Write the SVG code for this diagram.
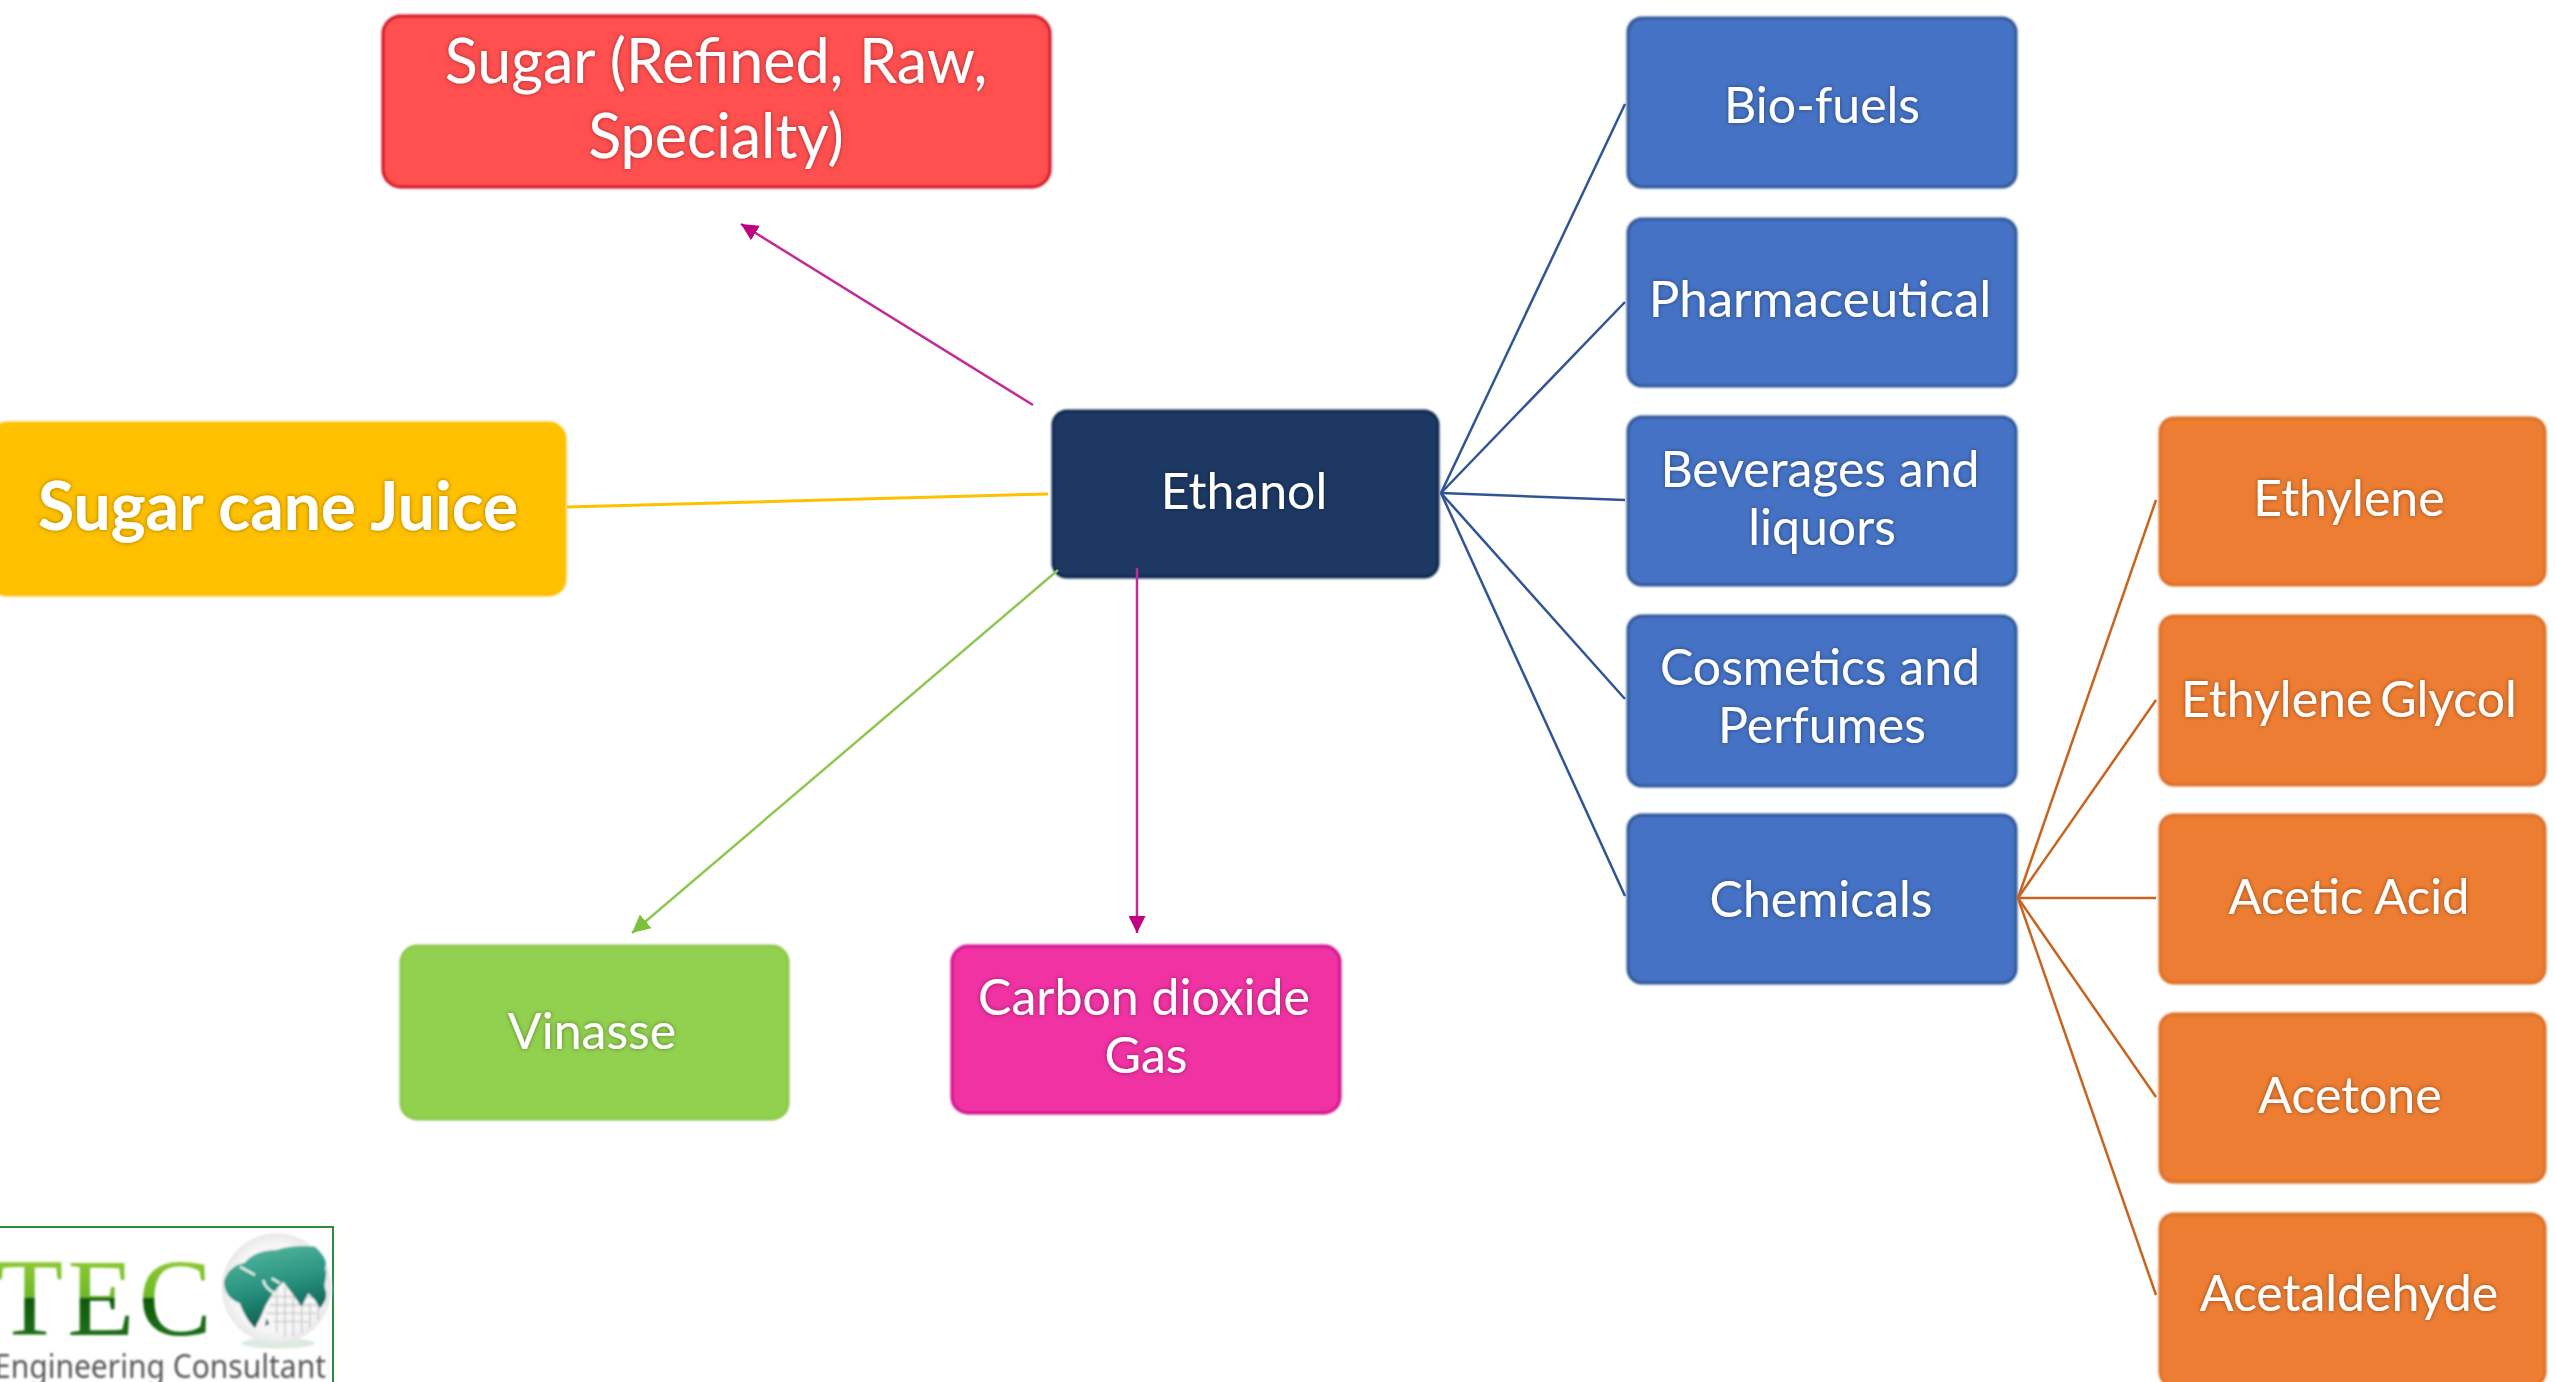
<svg xmlns="http://www.w3.org/2000/svg" width="2555" height="1382" viewBox="0 0 2555 1382">
<style>
.n{stroke-width:3;filter:url(#r)}
.t{font-family:Lato,"Open Sans",sans-serif;font-size:50px;fill:#fff;text-anchor:middle;filter:url(#s)}
.l{fill:none}
.blue{stroke:#2F5597;stroke-width:2.5}
.or{stroke:#C8641E;stroke-width:2.5}
.mag{stroke:#C42A98;stroke-width:2.5}
.gr{stroke:#8CC850;stroke-width:2.5}
.bl{fill:#4472C4;stroke:#2F5597}
.og{fill:#ED7D31;stroke:#DC6E26}
</style>
<defs>
<filter id="s" x="-10%" y="-20%" width="120%" height="140%"><feGaussianBlur in="SourceGraphic" stdDeviation="0.5" result="a"/><feGaussianBlur in="SourceAlpha" stdDeviation="2.2" result="c"/><feFlood flood-color="#000" flood-opacity=".4"/><feComposite in2="c" operator="in"/><feMerge><feMergeNode/><feMergeNode in="a"/></feMerge></filter>
<filter id="r" x="-2%" y="-3%" width="104%" height="106%"><feGaussianBlur stdDeviation="0.8"/></filter>
<filter id="b"><feGaussianBlur stdDeviation="1"/></filter>
<marker id="am2" viewBox="0 0 10 10" refX="10" refY="5" markerWidth="17" markerHeight="17" markerUnits="userSpaceOnUse" orient="auto"><path d="M0 0L10 5L0 10Z" fill="#C0007F"/></marker>
<marker id="ag" viewBox="0 0 10 10" refX="10" refY="5" markerWidth="18" markerHeight="18" markerUnits="userSpaceOnUse" orient="auto"><path d="M0 0L10 5L0 10Z" fill="#7DC03C"/></marker>
<linearGradient id="tec" x1="0" y1="1262" x2="0" y2="1335" gradientUnits="userSpaceOnUse"><stop offset="0" stop-color="#8CC832"/><stop offset=".48" stop-color="#6DB82A"/><stop offset=".5" stop-color="#0F5A0F"/><stop offset="1" stop-color="#1E6E14"/></linearGradient>
<linearGradient id="land" x1="0" y1="0" x2=".3" y2="1"><stop offset="0" stop-color="#5ABBA4"/><stop offset=".55" stop-color="#2A9480"/><stop offset="1" stop-color="#0B5F52"/></linearGradient>
<radialGradient id="globe" cx=".5" cy=".5" r=".5"><stop offset=".8" stop-color="#F6F6F6"/><stop offset="1" stop-color="#E8E8E8"/></radialGradient>
</defs>

<g id="sugar"><rect class="n" x="383" y="16" width="667" height="171" rx="18" fill="#FF5050" stroke="#D0101E"/><text class="t" x="716" y="83" style="font-size:61px">Sugar (Refined, Raw,</text><text class="t" x="716" y="158" style="font-size:61px">Specialty)</text></g>
<g id="juice"><rect class="n" x="-8" y="423" width="573" height="172" rx="16" fill="#FFC000" stroke="#FFC000"/><text class="t" x="278" y="530" style="font-size:66px;font-weight:700">Sugar cane Juice</text></g>
<g id="ethanol"><rect class="n" x="1053" y="411" width="385" height="166" rx="14" fill="#1F3864" stroke="#0F2850"/><text class="t" x="1244" y="509">Ethanol</text></g>
<g id="vinasse"><rect class="n" x="401" y="946" width="387" height="173" rx="16" fill="#92D050" stroke="#8CC84B"/><text class="t" x="592" y="1049">Vinasse</text></g>
<g id="co2"><rect class="n" x="952" y="946" width="388" height="167" rx="16" fill="#F033A3" stroke="#D0108C"/><text class="t" x="1144" y="1015">Carbon dioxide</text><text class="t" x="1146" y="1073">Gas</text></g>

<g id="biofuels"><rect class="n bl" x="1628" y="18" width="388" height="169" rx="14"/><text class="t" x="1822" y="123">Bio-fuels</text></g>
<g id="pharma"><rect class="n bl" x="1628" y="219" width="388" height="167" rx="14"/><text class="t" x="1820" y="317" style="font-size:51px">Pharmaceutical</text></g>
<g id="beverages"><rect class="n bl" x="1628" y="417" width="388" height="168" rx="14"/><text class="t" x="1820" y="487">Beverages and</text><text class="t" x="1822" y="545">liquors</text></g>
<g id="cosmetics"><rect class="n bl" x="1628" y="616" width="388" height="170" rx="14"/><text class="t" x="1820" y="685">Cosmetics and</text><text class="t" x="1822" y="743">Perfumes</text></g>
<g id="chemicals"><rect class="n bl" x="1628" y="815" width="388" height="168" rx="14"/><text class="t" x="1821" y="917">Chemicals</text></g>

<g id="ethylene"><rect class="n og" x="2160" y="418" width="385" height="167" rx="14"/><text class="t" x="2349" y="516">Ethylene</text></g>
<g id="glycol"><rect class="n og" x="2160" y="616" width="385" height="169" rx="14"/><text class="t" x="2349" y="717" style="word-spacing:-5px">Ethylene Glycol</text></g>
<g id="acetic"><rect class="n og" x="2160" y="815" width="385" height="168" rx="14"/><text class="t" x="2349" y="914" style="font-size:49px">Acetic Acid</text></g>
<g id="acetone"><rect class="n og" x="2160" y="1014" width="385" height="168" rx="14"/><text class="t" x="2350" y="1113">Acetone</text></g>
<g id="acetaldehyde"><rect class="n og" x="2160" y="1214" width="385" height="172" rx="14"/><text class="t" x="2349" y="1311">Acetaldehyde</text></g>

<g id="connectors">
<line class="l mag" x1="1033" y1="405" x2="741" y2="224" marker-end="url(#am2)"/>
<line class="l" stroke="#FFC000" stroke-width="3" x1="567" y1="507" x2="1048" y2="494"/>
<line class="l gr" x1="1058" y1="570" x2="632" y2="933" marker-end="url(#ag)"/>
<line class="l mag" x1="1137" y1="568" x2="1137" y2="933" marker-end="url(#am2)"/>
<line class="l blue" x1="1441" y1="493" x2="1625" y2="104"/>
<line class="l blue" x1="1441" y1="493" x2="1625" y2="302"/>
<line class="l blue" x1="1441" y1="493" x2="1625" y2="500"/>
<line class="l blue" x1="1441" y1="493" x2="1625" y2="699"/>
<line class="l blue" x1="1441" y1="493" x2="1625" y2="896"/>
<line class="l or" x1="2018" y1="898" x2="2156" y2="500"/>
<line class="l or" x1="2018" y1="898" x2="2156" y2="700"/>
<line class="l or" x1="2018" y1="898" x2="2156" y2="898"/>
<line class="l or" x1="2018" y1="898" x2="2156" y2="1097"/>
<line class="l or" x1="2018" y1="898" x2="2156" y2="1295"/>
</g>

<g id="logo">
<rect x="-4" y="1227" width="337" height="160" fill="#fff" stroke="#2E8B3C" stroke-width="2"/>
<g filter="url(#b)">
<text x="-4" y="1335" style="font-family:'Liberation Serif',serif;font-size:110px;letter-spacing:4px" fill="url(#tec)">TEC</text>
<g transform="translate(0 1200) scale(.3333)">
<ellipse cx="835" cy="430" rx="110" ry="16" fill="#DCEBE0"/>
<circle cx="830" cy="265" r="165" fill="url(#globe)"/>
<path d="M800 290H975M810 315H965M800 340H950M820 365H925M830 250V400M855 260V410M880 290V410M905 320V400M930 310V385M955 310V360" stroke="#C6C6C6" stroke-width="4" fill="none"/>
<path d="M672 245C680 215 700 195 735 188C750 165 790 150 830 150C860 140 900 135 945 140C965 160 985 180 975 205C985 225 970 250 975 265C985 290 975 305 960 325L945 300L925 280L905 320L880 285L850 245L835 260L815 285L795 320L785 345L765 385C745 365 725 330 720 310C695 300 672 280 672 245Z" fill="url(#land)"/>
<path d="M720 200L765 225M790 240C795 265 815 275 835 285M815 235L840 250" stroke="#E9F5F1" stroke-width="7" fill="none"/>
<path d="M800 355L808 372L795 378Z" fill="#0B5F52"/>
</g>
</g>
<text x="-6" y="1378" textLength="332" lengthAdjust="spacingAndGlyphs" filter="url(#b)" style="font-family:'Noto Sans',sans-serif;font-size:33px" fill="#555">Engineering Consultant</text>
</g>
</svg>
